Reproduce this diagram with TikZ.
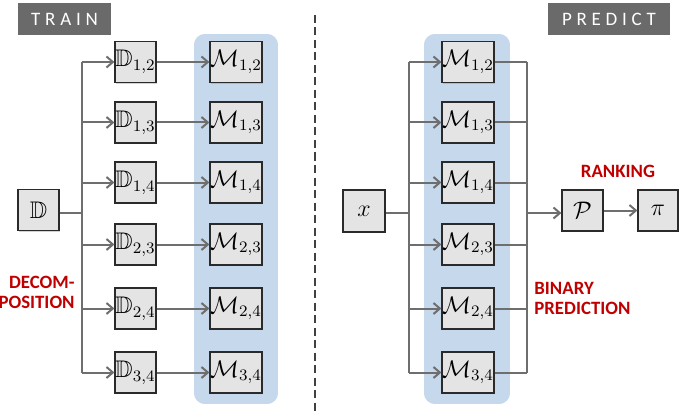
\documentclass[tikz,border=0pt]{standalone}
\usepackage{amssymb}
\usepackage{fontspec}
\setsansfont{Carlito}
\newfontfamily\lblfont[LetterSpace=25]{Carlito}
\usetikzlibrary{arrows.meta,shadows}
\definecolor{panelblue}{HTML}{C5D8EC}
\definecolor{boxfill}{HTML}{E4E4E4}
\definecolor{boxline}{HTML}{2A2A2A}
\definecolor{arrgrey}{HTML}{6E6E6E}
\definecolor{tagbg}{HTML}{6A6A6A}
\definecolor{redlbl}{HTML}{C00000}
\tikzset{
  px/.style={x=0.5pt,y=-0.5pt},
  mbox/.style={draw=boxline,fill=boxfill,line width=0.6pt,inner sep=0pt,
    minimum width=#1,minimum height=20.5pt,font=\fontsize{12}{14}\selectfont,
    drop shadow={shadow xshift=0.6pt,shadow yshift=-0.6pt,opacity=0.35}},
  conn/.style={draw=arrgrey,line width=1pt},
  arr/.style={conn,-{Straight Barb[length=3.2pt,width=5.5pt,line width=1pt]}},
  panel/.style={fill=panelblue,draw=white,line width=0.8pt,rounded corners=6pt},
  tag/.style={fill=tagbg,text=white,inner sep=0pt,font=\lblfont\fontsize{9.5}{11}\selectfont},
  redtxt/.style={text=redlbl,font=\sffamily\bfseries\fontsize{9.4}{11}\selectfont,inner sep=0pt}
}
\begin{document}
\begin{tikzpicture}[px]
\useasboundingbox (0,0) rectangle (685,417);
% tags
\node[tag,minimum width=46.5pt,minimum height=16pt] (train) at (64.5,19) {TRAIN};
\node[tag,minimum width=61pt,minimum height=16pt] (predict) at (609,19) {PREDICT};
% dashed divider
\coordinate (dtop) at (315,15);
\coordinate (dbot) at (315,412);
\draw[draw=black!75,line width=1pt,dash pattern=on 4pt off 2.25pt] (dtop) -- (dbot);
% panels
\fill[panel] (193,33) rectangle (279,405);
\fill[panel] (423,33) rectangle (511,405);
% left side
\node[mbox=20.5pt] (D) at (38.5,210) {$\mathbb{D}$};
\foreach \n/\lab/\y in {D12/{1,2}/62, D13/{1,3}/122.5, D14/{1,4}/182.5, D23/{2,3}/244.5, D24/{2,4}/308.5, D34/{3,4}/372.5}{
  \node[mbox=20.5pt] (\n) at (135.5,\y) {$\mathbb{D}_{\lab}$};
}
\foreach \n/\lab/\y in {LM12/{1,2}/62, LM13/{1,3}/122.5, LM14/{1,4}/182.5, LM23/{2,3}/244.5, LM24/{2,4}/308.5, LM34/{3,4}/372.5}{
  \node[mbox=26pt] (\n) at (236,\y) {$\mathcal{M}_{\lab}$};
}
\coordinate (tl) at (82,213);
\draw[conn] (D.east |- tl) -- (tl);
\draw[conn] (tl |- D12) -- (tl |- D34);
\foreach \n in {12,13,14,23,24,34}{
  \draw[arr] (tl |- D\n) -- (D\n.west);
  \draw[arr] (D\n.east) -- (LM\n.west);
}
\node[redtxt,align=right,anchor=east] (decomp) at (75,292.5) {DECOM-\\[-1pt]POSITION};
% right side
\node[mbox=21pt,minimum height=21pt] (X) at (364,211) {$x$};
\foreach \n/\lab/\y in {RM12/{1,2}/62, RM13/{1,3}/122.5, RM14/{1,4}/182.5, RM23/{2,3}/244.5, RM24/{2,4}/308.5, RM34/{3,4}/372.5}{
  \node[mbox=26pt] (\n) at (468,\y) {$\mathcal{M}_{\lab}$};
}
\coordinate (ti) at (409,213);
\coordinate (to) at (527,213);
\draw[conn] (X.east |- ti) -- (ti);
\draw[conn] (ti |- RM12) -- (ti |- RM34);
\draw[conn] (to |- RM12) -- (to |- RM34);
\foreach \n in {12,13,14,23,24,34}{
  \draw[arr] (ti |- RM\n) -- (RM\n.west);
  \draw[conn] (RM\n.east) -- (to |- RM\n);
}
\node[mbox=20.5pt] (P) at (582.5,210.5) {$\mathcal{P}$};
\node[mbox=20pt] (PI) at (658,210.5) {$\pi$};
\draw[arr] (to) -- (P.west |- to);
\draw[arr] (P.east) -- (PI.west);
\node[redtxt] (rank) at (618,171) {RANKING};
\node[redtxt,align=left,anchor=west] (binpred) at (534,298.5) {BINARY\\[-1pt]PREDICTION};
\end{tikzpicture}
\end{document}
